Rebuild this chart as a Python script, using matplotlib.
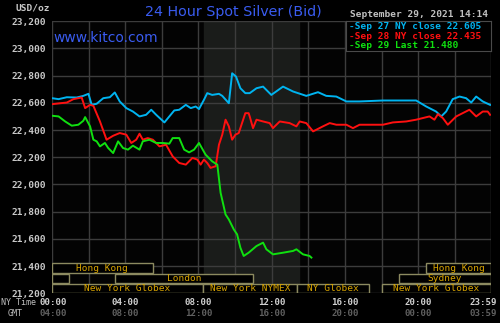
import matplotlib
matplotlib.use('Agg')
import matplotlib.pyplot as plt
from matplotlib.patches import Rectangle
import numpy as np

# hours (NY time) and bid values
sep27_hours = [0.00, 0.36, 0.81, 1.35, 1.71, 1.99, 2.17, 2.44, 2.80, 3.16, 3.43, 3.70, 4.06, 4.42, 4.78,
               5.14, 5.42, 5.69, 6.14, 6.41, 6.68, 6.95, 7.31, 7.58, 7.85, 8.03, 8.30, 8.48, 8.75, 9.12,
               9.30, 9.66, 9.84, 10.05, 10.29, 10.56, 10.80, 11.17, 11.53, 11.98, 12.62, 13.17, 13.89,
               14.53, 14.98, 15.53, 16.08, 16.80, 18.08, 18.98, 19.89, 20.44, 20.98, 21.26, 21.53,
               21.89, 22.26, 22.62, 22.90, 23.17, 23.53, 23.93]
sep27_vals = [22634, 22627, 22641, 22639, 22651, 22666, 22585, 22593, 22634, 22641, 22676, 22610, 22561,
              22536, 22500, 22512, 22549, 22512, 22456, 22500, 22544, 22549, 22585, 22561, 22573, 22554,
              22622, 22671, 22658, 22666, 22651, 22597, 22817, 22793, 22707, 22671, 22671, 22707, 22719,
              22658, 22719, 22683, 22651, 22678, 22651, 22646, 22610, 22610, 22617, 22617, 22617, 22573,
              22536, 22500, 22536, 22627, 22646, 22634, 22602, 22646, 22610, 22585]

sep28_hours = [0.00, 0.45, 0.81, 1.17, 1.62, 1.81, 2.08, 2.26, 2.62, 2.98, 3.34, 3.70, 4.06, 4.33, 4.60,
               4.78, 4.96, 5.23, 5.51, 5.87, 6.23, 6.59, 6.95, 7.31, 7.67, 7.94, 8.12, 8.30, 8.48, 8.66,
               8.94, 9.12, 9.30, 9.48, 9.66, 9.84, 10.02, 10.20, 10.56, 10.74, 10.80, 10.98, 11.17, 11.53,
               11.89, 12.07, 12.44, 12.98, 13.35, 13.53, 13.89, 14.26, 14.80, 15.17, 15.53, 16.08, 16.44,
               16.80, 17.35, 18.08, 18.62, 19.35, 19.89, 20.62, 20.89, 21.08, 21.35, 21.62, 22.08, 22.80,
               23.17, 23.53, 23.80, 23.93]
sep28_vals = [22590, 22597, 22602, 22627, 22639, 22561, 22585, 22578, 22463, 22329, 22358, 22378, 22366,
              22305, 22329, 22373, 22329, 22341, 22329, 22280, 22292, 22207, 22158, 22146, 22195, 22183,
              22146, 22183, 22158, 22122, 22134, 22292, 22366, 22476, 22427, 22329, 22366, 22378, 22524,
              22524, 22500, 22414, 22476, 22463, 22451, 22414, 22463, 22451, 22427, 22463, 22451, 22390,
              22427, 22451, 22439, 22439, 22414, 22439, 22439, 22439, 22456, 22463, 22476, 22500, 22476,
              22517, 22488, 22439, 22500, 22549, 22500, 22536, 22536, 22512]

sep29_hours = [0.00, 0.36, 0.72, 1.08, 1.44, 1.71, 1.81, 2.08, 2.26, 2.44, 2.62, 2.89, 3.07, 3.34, 3.61,
               3.88, 4.15, 4.42, 4.78, 4.96, 5.32, 5.69, 6.05, 6.41, 6.59, 6.95, 7.22, 7.49, 7.76, 8.03,
               8.39, 8.75, 9.03, 9.21, 9.48, 9.66, 9.93, 10.11, 10.29, 10.47, 10.74, 11.17, 11.53, 11.71,
               12.07, 12.62, 13.17, 13.35, 13.71, 14.07, 14.17]
sep29_vals = [22505, 22500, 22463, 22432, 22439, 22468, 22495, 22427, 22329, 22317, 22280, 22305, 22268,
              22231, 22317, 22268, 22256, 22285, 22256, 22317, 22329, 22305, 22305, 22300, 22341, 22341,
              22256, 22236, 22256, 22305, 22219, 22170, 22146, 21939, 21780, 21743, 21670, 21634, 21536,
              21475, 21499, 21548, 21573, 21524, 21487, 21499, 21512, 21524, 21487, 21475, 21463]

legend_labels = ['-Sep 27 NY close 22.605', '-Sep 28 NY close 22.435', '-Sep 29 Last 21.480']

# market sessions: (row, start hour, end hour, name)
sessions = [(0, 0.0, 5.5, 'Hong Kong'), (0, 20.45, 23.98, 'Hong Kong'),
            (1, 0.0, 0.95, ''), (1, 3.45, 11.0, 'London'), (1, 18.95, 23.98, 'Sydney'),
            (2, 0.0, 8.25, 'New York Globex'), (2, 8.25, 13.4, 'New York NYMEX'),
            (2, 13.4, 17.3, 'NY Globex'), (2, 18.0, 23.98, 'New York Globex')]

ny_ticks = ['00:00', '04:00', '08:00', '12:00', '16:00', '20:00']
gmt_ticks = ['04:00', '08:00', '12:00', '16:00', '20:00', '00:00']

mono = 'DejaVu Sans Mono'

fig = plt.figure(figsize=(5, 3.23), dpi=100, facecolor='black')
ax = fig.add_axes([0.104, 0.0916, 0.878, 0.843], facecolor='#030303')
ax.set_xlim(0, 23.98)
ax.set_ylim(21200, 23200)

ax.axvspan(8.33, 13.5, color='#1a1c1a', zorder=0)
for h in np.arange(0, 24, 2):
    ax.axvline(h, color='#3c3c3c', lw=1, zorder=1)
ax.axvline(23.98, color='#3c3c3c', lw=1, zorder=1)
for v in np.arange(21200, 23201, 200):
    ax.axhline(v, color='#3c3c3c', lw=1, zorder=1)

ax.plot(sep27_hours, sep27_vals, color='#00b4f0', lw=1.4, zorder=3)
ax.plot(sep28_hours, sep28_vals, color='#ff1010', lw=1.4, zorder=3)
ax.plot(sep29_hours, sep29_vals, color='#10e010', lw=1.4, zorder=3)

for s in ax.spines.values():
    s.set_visible(False)
ax.set_xticks([])
ax.set_yticks(np.arange(21200, 23201, 200))
ax.set_yticklabels(['{:,}'.format(v) for v in range(21200, 23201, 200)],
                   fontfamily=mono, fontsize=6.8, fontweight='bold', color='#c8c8c8')
ax.tick_params(axis='y', length=0, pad=4)

# session boxes
row_lo = [21350, 21275, 21200]
row_hi = [21420, 21343, 21268]
for row, a, b, name in sessions:
    ax.add_patch(Rectangle((a, row_lo[row]), b - a, row_hi[row] - row_lo[row],
                           facecolor='black', edgecolor='#8c8a60', lw=1, zorder=4))
    if name:
        ax.text((a + b) / 2, (row_lo[row] + row_hi[row]) / 2, name, ha='center', va='center',
                fontfamily=mono, fontsize=6.8, color='#d8a400', zorder=5)

# time labels
for i, (ny, gmt) in enumerate(zip(ny_ticks, gmt_ticks)):
    x = 0.104 + 0.878 * (i * 4) / 23.98
    if i == 0:
        x += 0.002
    fig.text(x, 0.063, ny, ha='center', va='center', fontfamily=mono, fontsize=6.6,
             fontweight='bold', color='#d0d0d0')
    fig.text(x, 0.03, gmt, ha='center', va='center', fontfamily=mono, fontsize=6.6,
             fontweight='bold', color='#606060')
fig.text(0.994, 0.063, '23:59', ha='right', va='center', fontfamily=mono, fontsize=6.6,
         fontweight='bold', color='#d0d0d0')
fig.text(0.994, 0.03, '03:59', ha='right', va='center', fontfamily=mono, fontsize=6.6,
         fontweight='bold', color='#606060')
fig.text(0.002, 0.063, 'NY Time', ha='left', va='center', fontfamily=mono, fontsize=6, color='#c0c0c0')
fig.text(0.016, 0.03, 'GMT', ha='left', va='center', fontfamily=mono, fontsize=6, color='#c0c0c0')

# header
fig.text(0.03, 0.975, 'USD/oz', ha='left', va='center', fontfamily=mono, fontsize=6.8,
         fontweight='bold', color='#c8c8c8')
fig.text(0.467, 0.962, '24 Hour Spot Silver (Bid)', ha='center', va='center', fontsize=10.3,
         color='#3a5cf0')
fig.text(0.106, 0.883, 'www.kitco.com', ha='left', va='center', fontsize=10, color='#3a5cf0')
fig.text(0.7, 0.955, 'September 29, 2021 14:14', ha='left', va='center', fontfamily=mono,
         fontsize=6.8, fontweight='bold', color='#c0c0c0')

# legend box
lax = fig.add_axes([0.692, 0.842, 0.29, 0.092], facecolor='black')
lax.set_xticks([])
lax.set_yticks([])
for s in lax.spines.values():
    s.set_color('#4a4a4a')
for i, (lab, col) in enumerate(zip(legend_labels, ['#00b4f0', '#ff1010', '#10e010'])):
    lax.text(0.02, 0.82 - i * 0.32, lab, transform=lax.transAxes, ha='left', va='center',
             fontfamily=mono, fontsize=6.8, fontweight='bold', color=col)

fig.savefig('out.png', dpi=100, facecolor='black')
